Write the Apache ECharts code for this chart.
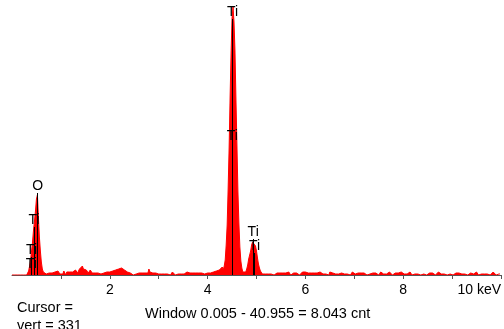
<!DOCTYPE html>
<html>
<head>
<meta charset="utf-8">
<script src="https://cdn.jsdelivr.net/npm/echarts@6/dist/echarts.min.js"></script>
<style>
html, body { margin: 0; padding: 0; background: #fff; }
#main { width: 504px; height: 329px; }
</style>
</head>
<body>
<div id="main"></div>
<script>
// channel width in keV
var channelWidth = 0.02;

// counts per channel (channel 0 .. 499)
var startZeros = [0,0,0,0,0,0,0,0,0,0,0,0,0,0,0,0,0];
var oRegion = [4,9,15,24,33,45,54,64,76,80,58,38,24,13,6,3,2];
var lowBackground = [
	2,1,3,0,2,1,
	3,2,0,1,3,2,1,4,2,1,
	2,3,1,4,2,0,3,2,1,3,
	2,4,3,1,2,5,3,2,4,6,
	5,8,9,6,7,4,5,3,2,4,
	5,3,2,1,3,2,4,1,2,3,
	2,1,3,0,2,1,2,3,1,2,
	3,1,2,4,2,3,5,3,4,6,
	5,4,7,6,8,5,7,4,3,2,
	3,2,1,2,0,1,2,1,3,1,
	2,0,1,2,1,3,2,4,3,2,
	6,3,2,1,2,1,0,2,1,2,
	1,2,0,1,2,1,1,0,2,1,
	2,1,0,1,3,1,2,0,1,2,
	1,2,3,1,2,0,1,2,1,3,
	2,1,2,0,1,2,3,1,2,1,
	1,2,1,3,2,1,2,1,3,2,
	2,1,3,2,1,2,3,2,3,4,
	3,4,5,4,6,8
];
var tiKaRegion = [5,9,15,30,50,86,127,178,222,257,268,253,224,175,130,84,52,28,14,7,3,2];
var tiKbRegion = [2,3,6,10,16,18,24,30,33,35,34,29,24,17,11,7,4,2,1,2,0,1];
var highBackground = [
	1,2,1,0,2,1,3,1,0,2,1,2,0,1,2,1,3,2,1,0,
	2,1,2,3,1,0,2,1,2,1,3,2,1,2,0,1,2,3,1,2,
	3,2,1,2,4,3,2,1,3,2,4,3,2,1,2,3,1,2,1,0,
	2,1,2,1,0,3,2,1,2,1,3,1,2,0,1,2,1,2,3,1,
	1,0,2,1,2,1,0,2,3,1,2,1,0,1,2,1,3,2,1,0,
	2,1,2,0,1,2,1,3,1,2,0,1,2,1,2,0,1,3,1,2,
	1,2,0,1,2,1,3,2,1,0,2,1,2,1,0,2,1,2,3,1,
	2,1,0,2,1,2,1,3,1,0,1,2,1,0,2,1,2,1,0,1,
	2,1,3,1,0,2,1,2,1,0,2,1,1,0,2,1,3,1,2,1,
	0,2,1,2,1,0,1,2,1,3,1,0,2,1,2,0,1,2,1,0,
	1,2,0,1,2,1,0,2,1,2,1,0,1,2,1,3,1,0,2,1,
	1,0,2,1,2,0,1,2,1,0,2,1,3,1,2,0,1,2,1,1
];

// KLM markers: element, energy (keV), marker height (counts)
var markerNames = ['Ti', 'Ti', 'Ti', 'Ti', 'O', 'Ti', 'Ti', 'Ti'];
var markerKeV = [4.511, 4.505, 4.932, 4.962, 0.525, 0.452, 0.401, 0.395];
var markerTop = [256, 132, 36, 22, 82, 48, 18, 4];

var counts = startZeros.concat(oRegion, lowBackground, tiKaRegion, tiKbRegion, highBackground);
var spectrum = counts.map(function (c, i) { return [i * channelWidth, c]; });

var markLines = markerKeV.map(function (e, i) {
	return [
		{ coord: [e, 0], label: { formatter: markerNames[i] } },
		{ coord: [e, markerTop[i]] }
	];
});

var font = '"Liberation Sans", Arial, sans-serif';
var myChart = echarts.init(document.getElementById('main'));
var option = {
	animation: false,
	grid: { left: 12, right: -1, top: 5, bottom: 54 },
	xAxis: {
		type: 'value',
		min: 0,
		max: 10,
		interval: 1,
		axisLine: { lineStyle: { color: '#555', width: 1 } },
		axisTick: { length: 4, lineStyle: { color: '#555' } },
		splitLine: { show: false },
		axisLabel: {
			margin: 8,
			color: '#000',
			fontSize: 14,
			fontFamily: font,
			showMinLabel: false,
			alignMaxLabel: 'right',
			formatter: function (v) {
				if (v % 2 !== 0) return '';
				return v === 10 ? '10 keV' : String(v);
			}
		}
	},
	yAxis: { type: 'value', min: 0, max: 270, show: false },
	series: [{
		type: 'line',
		data: spectrum,
		symbol: 'none',
		lineStyle: { color: '#ff0000', width: 1 },
		areaStyle: { color: '#ff0000', opacity: 1 },
		markLine: {
			silent: true,
			symbol: 'none',
			lineStyle: { color: '#000', width: 1, type: 'solid' },
			label: {
				position: 'end',
				distance: 0,
				color: '#000',
				fontSize: 14,
				fontFamily: font
			},
			data: markLines
		}
	}],
	graphic: [
		{ type: 'text', left: 17, top: 300, style: { text: 'Cursor =', fill: '#000', font: '14.5px ' + font } },
		{ type: 'text', left: 17, top: 318, style: { text: 'vert = 331', fill: '#000', font: '14.5px ' + font } },
		{ type: 'text', left: 145, top: 306, style: { text: 'Window 0.005 - 40.955 = 8.043 cnt', fill: '#000', font: '14.5px ' + font } }
	]
};
myChart.setOption(option, true);
</script>
</body>
</html>
